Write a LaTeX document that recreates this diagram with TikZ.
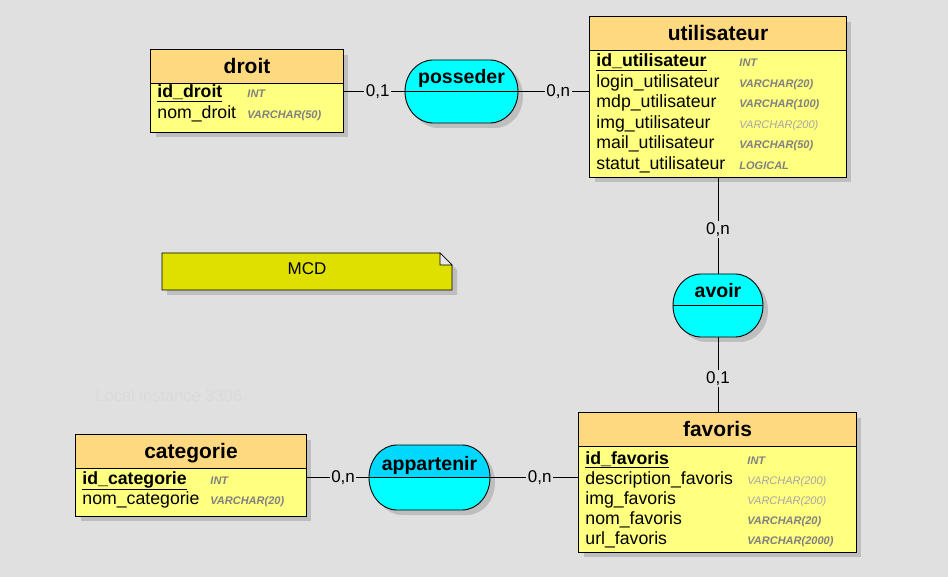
\documentclass[tikz,border=0pt]{standalone}
\usepackage{fontspec}
\setmainfont{Liberation Sans}
\usetikzlibrary{fit}
\definecolor{bgc}{RGB}{224,224,224}
\definecolor{headc}{RGB}{255,217,128}
\definecolor{bodyc}{RGB}{255,255,128}
\definecolor{cyanc}{RGB}{0,255,255}
\definecolor{cyandk}{RGB}{0,216,255}
\definecolor{shadowc}{RGB}{190,190,190}
\definecolor{notec}{RGB}{224,224,0}
\definecolor{foldc}{RGB}{232,232,232}
\definecolor{typebold}{RGB}{128,128,128}
\definecolor{typelight}{RGB}{165,165,165}
\definecolor{faintc}{RGB}{218,218,218}
\tikzset{
  enttitle/.style={font=\bfseries\fontsize{21}{24}\selectfont, anchor=base, inner sep=0},
  asstitle/.style={font=\bfseries\fontsize{19.5}{23}\selectfont, anchor=base, inner sep=0},
  rowtxt/.style={font=\fontsize{17.7}{20}\selectfont, anchor=base west, inner sep=0},
  typeb/.style={font=\bfseries\itshape\fontsize{11}{13}\selectfont, text=typebold, anchor=base west, inner sep=0},
  typel/.style={font=\itshape\fontsize{11}{13}\selectfont, text=typelight, anchor=base west, inner sep=0},
  card/.style={fill=bgc, inner sep=1.5pt, font=\fontsize{17}{20}\selectfont},
  conn/.style={draw=black, line width=0.9pt}
}
% entity: name, x1, y1, x2, y2, yheader, title
\newcommand\mcdentity[7]{%
  \fill[shadowc] (#2+5,-#3-5) rectangle (#4+5,-#5-5);
  \node[fit={(#2,-#3) (#4,-#5)}, inner sep=0, fill=bodyc] (#1) {};
  \fill[headc] (#2,-#3) rectangle (#4,-#6);
  \draw (#2,-#6) -- (#4,-#6);
  \draw (#1.north west) rectangle (#1.south east);
  \node[enttitle] (#1-title) at ({(#2+#4)/2},-#6+9.5) {#7};
}
\newcommand\assocpath[1]{%
  \path[#1] (\aL+28,\aT) -- (\aR-28,\aT)
    arc[start angle=90,end angle=-90,x radius=28,y radius=\aRy]
    -- (\aL+28,\aB)
    arc[start angle=270,end angle=90,x radius=28,y radius=\aRy] -- cycle;
}
% association: name, cx, cy, w, h, title, topcolor
\newcommand\mcdassoc[7]{%
  \pgfmathsetmacro\aL{#2-#4/2}\pgfmathsetmacro\aR{#2+#4/2}%
  \pgfmathsetmacro\aT{-#3+#5/2}\pgfmathsetmacro\aB{-#3-#5/2}%
  \pgfmathsetmacro\aRy{#5/2}%
  \assocpath{fill=shadowc, shift={(5,-5)}}
  \assocpath{fill=cyanc}
  \begin{scope}
    \clip (\aL-2,\aT+2) rectangle (\aR+2,-#3);
    \assocpath{fill=#7}
  \end{scope}
  \assocpath{draw}
  \node[inner sep=0, minimum width=#4, minimum height=#5] (#1) at (#2,-#3) {};
  \draw (#1.west) -- (#1.east);
  \node[asstitle] (#1-title) at (#2,-#3+7.5) {#6};
}
\begin{document}
\begin{tikzpicture}[x=1pt,y=1pt,line width=0.9pt]
\useasboundingbox (0,0) rectangle (948,-577);
\fill[bgc] (0,0) rectangle (948,-577);

% faint background text
\node[font=\fontsize{16.5}{20}\selectfont, text=faintc, anchor=base west, inner sep=0] (instance) at (95,-401) {Local instance 3306};

% MCD note
\fill[shadowc] (167,-258) -- (445,-258) -- (457,-270) -- (457,-295) -- (167,-295) -- cycle;
\draw[fill=notec] (162,-253) -- (440,-253) -- (452,-265) -- (452,-290) -- (162,-290) -- cycle;
\draw[fill=foldc, line width=0.6pt] (440,-253) -- (440,-265) -- (452,-265) -- cycle;
\node[fit={(162,-253) (452,-290)}, inner sep=0] (mcd) {};
\node[font=\fontsize{17}{20}\selectfont, inner sep=0] (mcd-label) at (307,-269) {MCD};

% entities
\mcdentity{droit}{151}{50}{343}{132}{83}{droit}
\node[rowtxt] (droit-r1) at (157,-98) {\underline{\textbf{id\_droit}}};
\node[typeb] (droit-y1) at (247,-98) {INT};
\node[rowtxt] (droit-r2) at (157,-119) {nom\_droit};
\node[typeb] (droit-y2) at (247,-119) {VARCHAR(50)};

\mcdentity{utilisateur}{590}{17}{846}{177}{50}{utilisateur}
\node[rowtxt] (util-r1) at (596,-67) {\underline{\textbf{id\_utilisateur}}};
\node[typeb] (util-y1) at (739,-67) {INT};
\node[rowtxt] (util-r2) at (596,-87.5) {login\_utilisateur};
\node[typeb] (util-y2) at (739,-87.5) {VARCHAR(20)};
\node[rowtxt] (util-r3) at (596,-108) {mdp\_utilisateur};
\node[typeb] (util-y3) at (739,-108) {VARCHAR(100)};
\node[rowtxt] (util-r4) at (596,-128.5) {img\_utilisateur};
\node[typel] (util-y4) at (739,-128.5) {VARCHAR(200)};
\node[rowtxt] (util-r5) at (596,-149) {mail\_utilisateur};
\node[typeb] (util-y5) at (739,-149) {VARCHAR(50)};
\node[rowtxt] (util-r6) at (596,-169.5) {statut\_utilisateur};
\node[typeb] (util-y6) at (739,-169.5) {LOGICAL};

\mcdentity{favoris}{579}{413}{856}{552}{446}{favoris}
\node[rowtxt] (fav-r1) at (585,-464) {\underline{\textbf{id\_favoris}}};
\node[typeb] (fav-y1) at (747,-464) {INT};
\node[rowtxt] (fav-r2) at (585,-484) {description\_favoris};
\node[typel] (fav-y2) at (747,-484) {VARCHAR(200)};
\node[rowtxt] (fav-r3) at (585,-504) {img\_favoris};
\node[typel] (fav-y3) at (747,-504) {VARCHAR(200)};
\node[rowtxt] (fav-r4) at (585,-524) {nom\_favoris};
\node[typeb] (fav-y4) at (747,-524) {VARCHAR(20)};
\node[rowtxt] (fav-r5) at (585,-544) {url\_favoris};
\node[typeb] (fav-y5) at (747,-544) {VARCHAR(2000)};

\mcdentity{categorie}{76}{435}{306}{516}{468}{categorie}
\node[rowtxt] (cat-r1) at (82,-484) {\underline{\textbf{id\_categorie}}};
\node[typeb] (cat-y1) at (210,-484) {INT};
\node[rowtxt] (cat-r2) at (82,-504) {nom\_categorie};
\node[typeb] (cat-y2) at (210,-504) {VARCHAR(20)};

% associations
\mcdassoc{posseder}{461.5}{91.5}{113}{63}{posseder}{cyanc}
\mcdassoc{avoir}{718}{305.5}{90}{63}{avoir}{cyanc}
\mcdassoc{appartenir}{429.5}{477.5}{121}{65}{appartenir}{cyandk}

% connectors
\draw[conn] (posseder.west -| droit.east) -- node[card, pos=0.56] (c1) {0,1} (posseder.west);
\draw[conn] (posseder.east) -- node[card, pos=0.56] (c2) {0,n} (posseder.east -| utilisateur.west);
\draw[conn] (utilisateur.south) -- node[card, pos=0.54] (c3) {0,n} (avoir.north);
\draw[conn] (avoir.south) -- node[card, pos=0.55] (c4) {0,1} (avoir.south |- favoris.north);
\draw[conn] (appartenir.west -| categorie.east) -- node[card, pos=0.59] (c5) {0,n} (appartenir.west);
\draw[conn] (appartenir.east) -- node[card, pos=0.56] (c6) {0,n} (appartenir.east -| favoris.west);
\end{tikzpicture}
\end{document}
